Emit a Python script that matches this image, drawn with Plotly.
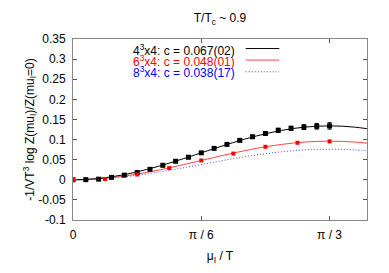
import numpy as np
import plotly.graph_objects as go

PI = np.pi

# Black data points (4^3x4), mu_I/T = k*pi/60
x_black = [k * PI / 60 for k in range(21)]
y_black = [0.0, 0.0003, 0.0015, 0.006, 0.0115, 0.018, 0.026, 0.036, 0.046, 0.056,
           0.067, 0.078, 0.088, 0.098, 0.107, 0.115, 0.123, 0.128, 0.131, 0.133, 0.134]
e_black = [0, 0, 0, 0, 0, 0, 0, 0, 0, 0, 0.001, 0.001, 0.002, 0.002, 0.003,
           0.004, 0.005, 0.005, 0.006, 0.007, 0.008]

# Red data points (6^3x4), mu_I/T = j*pi/24
x_red = [j * PI / 24 for j in range(9)]
y_red = [0.0, 0.002, 0.013, 0.029, 0.048, 0.065, 0.082, 0.092, 0.0955]

x_curve = [0.0, 0.05, 0.1, 0.15, 0.2, 0.25, 0.3, 0.35, 0.4, 0.45, 0.5, 0.55, 0.6,
           0.65, 0.7, 0.75, 0.8, 0.85, 0.9, 0.95, 1.0, 1.05, 1.1, 1.15, 1.2]
y_fit4 = [0.0, 0.0008, 0.0030, 0.0067, 0.0117, 0.0180, 0.0254, 0.0337, 0.0427,
          0.0523, 0.0623, 0.0723, 0.0822, 0.0919, 0.1008, 0.1091, 0.1164, 0.1226,
          0.1276, 0.1312, 0.1333, 0.1340, 0.1332, 0.1308, 0.1271]
y_fit6 = [0.0, 0.0005, 0.0021, 0.0048, 0.0084, 0.0129, 0.0182, 0.0241, 0.0306,
          0.0375, 0.0446, 0.0518, 0.0589, 0.0658, 0.0722, 0.0782, 0.0834, 0.0878,
          0.0914, 0.0940, 0.0955, 0.0960, 0.0954, 0.0937, 0.0910]
y_fit8 = [0.0, 0.0004, 0.0017, 0.0038, 0.0066, 0.0102, 0.0144, 0.0191, 0.0242,
          0.0297, 0.0353, 0.0410, 0.0466, 0.0521, 0.0572, 0.0619, 0.0660, 0.0695,
          0.0724, 0.0744, 0.0756, 0.0760, 0.0755, 0.0742, 0.0721]

legend_labels = ["4<sup>3</sup>x4: c = 0.067(02)",
                 "6<sup>3</sup>x4: c = 0.048(01)",
                 "8<sup>3</sup>x4: c = 0.038(17)"]
legend_colors = ["#000000", "#ff0000", "#0000ff"]
legend_line_colors = ["#000000", "#ff4444", "#4444ff"]
legend_dash = ["solid", "solid", "1px,2px"]

x_tickvals = [0, PI / 6, PI / 3]
x_ticktext = ["0", "π / 6", "π / 3"]
y_tickvals = [-0.1, -0.05, 0, 0.05, 0.1, 0.15, 0.2, 0.25, 0.3, 0.35]
y_ticktext = ["-0.1", "-0.05", "0", "0.05", "0.1", "0.15", "0.2", "0.25", "0.3", "0.35"]

fig = go.Figure()
fig.add_trace(go.Scatter(x=x_curve, y=y_fit8, mode="lines", line=dict(color="#4444ff", width=1, dash="1px,2px", shape="spline"), showlegend=False))
fig.add_trace(go.Scatter(x=x_curve, y=y_fit6, mode="lines", line=dict(color="#ff4444", width=1, shape="spline"), showlegend=False))
fig.add_trace(go.Scatter(x=x_curve, y=y_fit4, mode="lines", line=dict(color="#000000", width=1, shape="spline"), showlegend=False))
fig.add_trace(go.Scatter(x=x_black, y=y_black, mode="markers",
                         marker=dict(color="#000000", size=5, symbol="square"),
                         error_y=dict(type="data", array=e_black, color="#000000", thickness=1, width=2),
                         showlegend=False))
fig.add_trace(go.Scatter(x=x_red, y=y_red, mode="markers",
                         marker=dict(color="#ff0000", size=4, symbol="square"),
                         showlegend=False))

# page body has an 8px margin; compensate so the chart lands where the reference is
OFF = 8
W, H = 389 - OFF, 273 - OFF
L, R, T, B = 73 - OFF, 22, 39 - OFF, 39
pw = W - L - R
ph = H - T - B
rows_y = [50.5, 62.7, 75.0]
line_y = [49.3, 61.7, 74.3]
for i in range(3):
    fig.add_annotation(x=(237 - OFF - L) / pw, y=1 - (rows_y[i] - OFF - T) / ph, xref="paper", yref="paper",
                       text=legend_labels[i], showarrow=False, xanchor="right", yanchor="middle",
                       font=dict(color=legend_colors[i], size=12, family="Liberation Sans, Arial"))
    fig.add_shape(type="line", xref="paper", yref="paper",
                  x0=(245.7 - OFF - L) / pw, x1=(279.3 - OFF - L) / pw,
                  y0=1 - (line_y[i] - OFF - T) / ph, y1=1 - (line_y[i] - OFF - T) / ph,
                  line=dict(color=legend_line_colors[i], width=1, dash=legend_dash[i]))

fig.update_layout(
    width=W, height=H,
    margin=dict(l=L, r=R, t=T, b=B),
    paper_bgcolor="white", plot_bgcolor="white",
    font=dict(family="Liberation Sans, Arial", size=12, color="black"),
    title=dict(text="T/T<sub>c</sub> ~ 0.9", x=(L + pw / 2) / W, xanchor="center",
               y=1 - (18 - OFF) / H, yanchor="middle", font=dict(size=12)),
    showlegend=False,
)
fig.update_xaxes(range=[0, 1.2], tickvals=x_tickvals, ticktext=x_ticktext,
                 ticks="inside", ticklen=4, tickcolor="#555555", showline=True, linecolor="#888888",
                 linewidth=1, mirror="ticks", showgrid=False, zeroline=False, ticklabelstandoff=4,
                 title=dict(text="μ<sub>I</sub> / T", standoff=10, font=dict(size=12)))
fig.update_yaxes(range=[-0.1, 0.35], tickvals=y_tickvals, ticktext=y_ticktext,
                 ticks="inside", ticklen=4, tickcolor="#555555", showline=True, linecolor="#888888",
                 linewidth=1, mirror="ticks", showgrid=False, zeroline=False, ticklabelstandoff=4,
                 title=dict(text="-1/VT<sup>3</sup> log Z(mu<sub>I</sub>)/Z(mu<sub>I</sub>=0)", standoff=0, font=dict(size=12)))

fig.write_html("out.html")
